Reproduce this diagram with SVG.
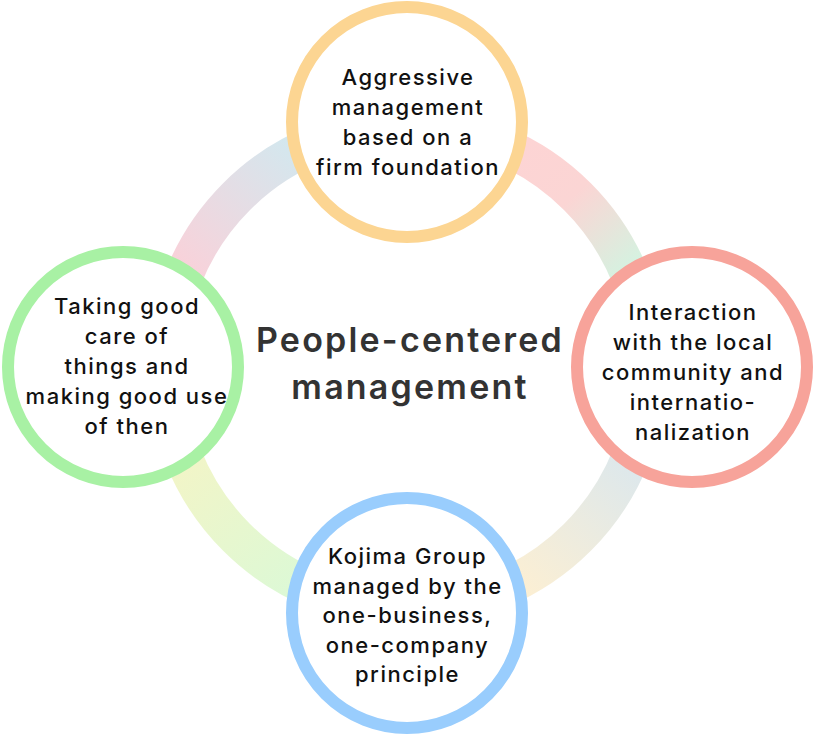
<svg xmlns="http://www.w3.org/2000/svg" width="814" height="736" viewBox="0 0 814 736">
<defs>
<linearGradient id="gTL" gradientUnits="userSpaceOnUse" x1="185" y1="265" x2="300" y2="145"><stop offset="0" stop-color="#f8d2da"/><stop offset="1" stop-color="#d2e8ef"/></linearGradient>
<linearGradient id="gTR" gradientUnits="userSpaceOnUse" x1="520" y1="145" x2="630" y2="265"><stop offset="0" stop-color="#fdd4d4"/><stop offset="0.45" stop-color="#fbd5d4"/><stop offset="1" stop-color="#d6f1e0"/></linearGradient>
<linearGradient id="gBR" gradientUnits="userSpaceOnUse" x1="630" y1="470" x2="520" y2="590"><stop offset="0" stop-color="#dee8eb"/><stop offset="1" stop-color="#fcefd3"/></linearGradient>
<linearGradient id="gBL" gradientUnits="userSpaceOnUse" x1="300" y1="590" x2="185" y2="470"><stop offset="0" stop-color="#dcf9d6"/><stop offset="1" stop-color="#f1f5c8"/></linearGradient>
<style>
.arc{fill:none;stroke-width:38}
.node{fill:#ffffff;stroke-width:12}
.lbl{font-family:Inter,"Noto Sans","Liberation Sans",sans-serif;font-size:22px;font-weight:500;fill:#111111;text-anchor:middle;letter-spacing:1.5px}
.title{font-family:Inter,"Noto Sans","Liberation Sans",sans-serif;font-size:34px;font-weight:600;fill:#333333;text-anchor:middle;letter-spacing:2.2px}
</style>
</defs>
<rect width="814" height="736" fill="#ffffff"/>
<g id="connectors">
<path class="arc" stroke="url(#gTL)" d="M166,367 A241,241 0 0 1 407,126"/>
<path class="arc" stroke="url(#gTR)" d="M407,126 A241,241 0 0 1 648,367"/>
<path class="arc" stroke="url(#gBR)" d="M648,367 A241,241 0 0 1 407,608"/>
<path class="arc" stroke="url(#gBL)" d="M407,608 A241,241 0 0 1 166,367"/>
</g>
<g id="center">
<text class="title" x="410" y="352">People-centered</text>
<text class="title" x="410" y="399">management</text>
</g>
<g id="node-top">
<circle class="node" cx="407" cy="122" r="115" stroke="#fcd592"/>
<text class="lbl" x="408" y="85">Aggressive</text>
<text class="lbl" x="408" y="115">management</text>
<text class="lbl" x="408" y="145">based on a</text>
<text class="lbl" x="408" y="175">firm foundation</text>
</g>
<g id="node-right">
<circle class="node" cx="692" cy="367" r="115" stroke="#f7a39a"/>
<text class="lbl" x="693" y="320">Interaction</text>
<text class="lbl" x="693" y="350">with the local</text>
<text class="lbl" x="693" y="380">community and</text>
<text class="lbl" x="693" y="410">internatio-</text>
<text class="lbl" x="693" y="440">nalization</text>
</g>
<g id="node-bottom">
<circle class="node" cx="407" cy="613" r="115" stroke="#99cdfd"/>
<text class="lbl" x="407.5" y="564">Kojima Group</text>
<text class="lbl" x="407.5" y="593.5">managed by the</text>
<text class="lbl" x="407.5" y="623">one-business,</text>
<text class="lbl" x="407.5" y="652.5">one-company</text>
<text class="lbl" x="407.5" y="682">principle</text>
</g>
<g id="node-left">
<circle class="node" cx="123" cy="367" r="115" stroke="#a8f1a4"/>
<text class="lbl" x="127" y="314">Taking good</text>
<text class="lbl" x="127" y="344">care of</text>
<text class="lbl" x="127" y="374">things and</text>
<text class="lbl" x="127" y="404">making good use</text>
<text class="lbl" x="127" y="434">of then</text>
</g>
</svg>
